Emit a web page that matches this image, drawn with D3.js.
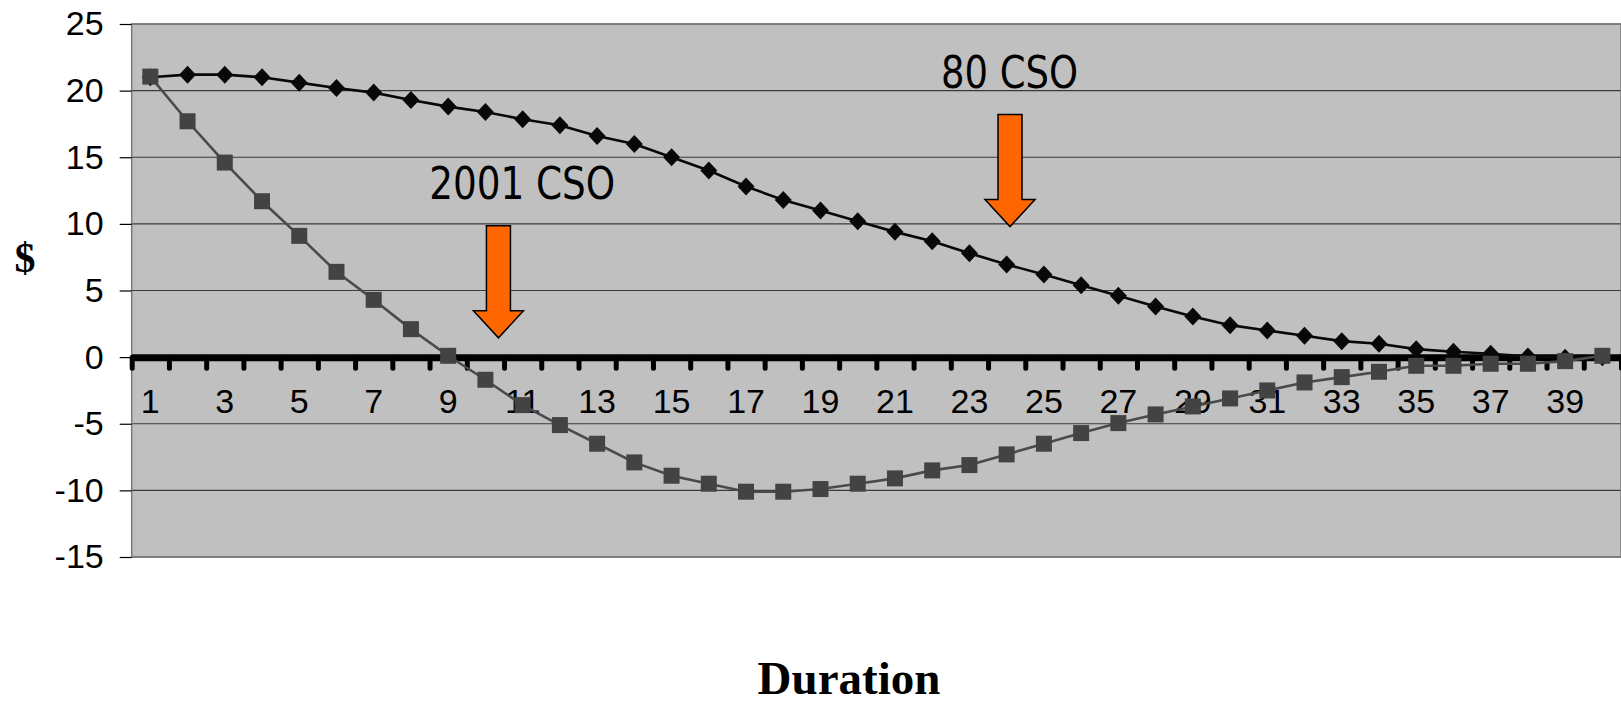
<!DOCTYPE html>
<html>
<head>
<meta charset="utf-8">
<script src="https://cdn.jsdelivr.net/npm/d3@7"></script>
<style>
  body { margin: 0; background: #fff; }
  svg { display: block; }
</style>
</head>
<body>
<div id="chart"></div>
<script>
// durations 1..40
var durations = d3.range(1, 41);

// 80 CSO series (diamonds)
var cso80 = [21.0, 21.2, 21.2, 21.0, 20.6, 20.2, 19.85, 19.3, 18.8, 18.4,
             17.85, 17.4, 16.6, 16.0, 15.0, 14.0, 12.8, 11.8, 11.0, 10.2,
             9.4, 8.7, 7.8, 6.95, 6.2, 5.4, 4.6, 3.8, 3.05, 2.4,
             2.0, 1.6, 1.2, 1.0, 0.6, 0.4, 0.25, 0.05, -0.05, 0.0];

// 2001 CSO series (squares)
var cso2001 = [21.05, 17.7, 14.6, 11.7, 9.1, 6.4, 4.3, 2.1, 0.1, -1.7,
               -3.6, -5.1, -6.5, -7.9, -8.9, -9.5, -10.1, -10.1, -9.9, -9.5,
               -9.1, -8.5, -8.1, -7.3, -6.5, -5.7, -4.95, -4.3, -3.7, -3.1,
               -2.5, -1.9, -1.5, -1.1, -0.65, -0.65, -0.5, -0.5, -0.3, 0.1];

var yTicks = [-15, -10, -5, 0, 5, 10, 15, 20, 25];
var xLabels = durations.filter(function(d) { return d % 2 === 1; });

// annotation labels and arrows, in chart units
var noteLabels = ["80 CSO", "2001 CSO"];
var noteTextPos = [[21.74, 20.2], [7.99, 11.87]];
var arrowPos = [[23.59, 18.2, 9.8], [9.85, 9.85, 1.45]];

var svgWidth = 1621;
var svgHeight = 703;
var margin = { top: 24, right: 0, bottom: 146, left: 131.7 };
var width = svgWidth - margin.left - margin.right;
var height = svgHeight - margin.top - margin.bottom;

var svg = d3.select("#chart").append("svg")
    .attr("width", svgWidth)
    .attr("height", svgHeight);

var chartGroup = svg.append("g")
    .attr("transform", `translate(${margin.left}, ${margin.top})`);

var xBand = d3.scaleBand().domain(durations).range([0, width]).padding(0);
var xLinear = d3.scaleLinear().domain([0, 40]).range([0, width]);
var yScale = d3.scaleLinear().domain([-15, 25]).range([height, 0]);

function px(d) { return xBand(d) + xBand.bandwidth() / 2; }

// plot background
chartGroup.append("rect")
    .attr("width", width)
    .attr("height", height)
    .attr("fill", "#c0c0c0");

// gridlines
chartGroup.selectAll(".grid")
    .data(yTicks)
    .enter()
    .append("line")
    .attr("x1", 0)
    .attr("x2", width)
    .attr("y1", function(d) { return yScale(d); })
    .attr("y2", function(d) { return yScale(d); })
    .attr("stroke", "#3a3a3a")
    .attr("stroke-width", 1.2);

// plot frame
chartGroup.append("rect")
    .attr("width", width)
    .attr("height", height)
    .attr("fill", "none")
    .attr("stroke", "#7a7a7a")
    .attr("stroke-width", 1.5);

// y axis (plain hyphen minus like the original)
var leftAxis = d3.axisLeft(yScale)
    .tickValues(yTicks)
    .tickSize(12)
    .tickPadding(16)
    .tickFormat(function(d) { return String(d); });
var yAxisG = chartGroup.append("g").call(leftAxis);
yAxisG.select(".domain").remove();
yAxisG.selectAll("line").attr("stroke", "#000").attr("stroke-width", 1.2);
yAxisG.selectAll("text")
    .style("font-family", "Liberation Sans, Arial, sans-serif")
    .style("font-size", "34px")
    .attr("fill", "#000");

// x axis at zero: thick line with round tick marks at category boundaries
var tickAxis = d3.axisBottom(xLinear)
    .tickValues(d3.range(0, 41))
    .tickSize(11)
    .tickSizeOuter(0)
    .tickFormat("");
var xAxisG = chartGroup.append("g")
    .attr("transform", `translate(0, ${yScale(0)})`)
    .call(tickAxis);
xAxisG.select(".domain").attr("stroke", "#000").attr("stroke-width", 7);
xAxisG.selectAll(".tick line")
    .attr("stroke", "#000")
    .attr("stroke-width", 5)
    .attr("stroke-linecap", "round");

// x labels (odd durations)
var labelAxis = d3.axisBottom(xBand).tickValues(xLabels).tickSize(0).tickPadding(32);
var labelG = chartGroup.append("g")
    .attr("transform", `translate(0, ${yScale(0)})`)
    .call(labelAxis);
labelG.select(".domain").remove();
labelG.selectAll("text")
    .style("font-family", "Liberation Sans, Arial, sans-serif")
    .style("font-size", "34px")
    .attr("fill", "#000");

// shared line generator
var seriesLine = d3.line()
    .x(function(d, i) { return px(durations[i]); })
    .y(function(d) { return yScale(d); });

// 80 CSO line with diamonds
chartGroup.append("path")
    .datum(cso80)
    .attr("d", seriesLine)
    .attr("fill", "none")
    .attr("stroke", "#080808")
    .attr("stroke-width", 2.6);

var dw = 8.5, dh = 9;
chartGroup.selectAll(".diamond")
    .data(cso80)
    .enter()
    .append("path")
    .attr("d", "M0," + (-dh) + "L" + dw + ",0L0," + dh + "L" + (-dw) + ",0Z")
    .attr("transform", function(d, i) {
        return `translate(${px(durations[i])}, ${yScale(d)})`;
    })
    .attr("fill", "#080808");

// 2001 CSO line with squares
chartGroup.append("path")
    .datum(cso2001)
    .attr("d", seriesLine)
    .attr("fill", "none")
    .attr("stroke", "#4a4a4a")
    .attr("stroke-width", 2.6);

chartGroup.selectAll(".square")
    .data(cso2001)
    .enter()
    .append("rect")
    .attr("x", function(d, i) { return px(durations[i]) - 8; })
    .attr("y", function(d) { return yScale(d) - 8; })
    .attr("width", 16)
    .attr("height", 16)
    .attr("fill", "#434343");

// annotation arrows
var shaftW = 24, headW = 50, headL = 27;
chartGroup.selectAll(".arrow")
    .data(arrowPos)
    .enter()
    .append("path")
    .attr("d", function(a) {
        var cx = xLinear(a[0]), top = yScale(a[1]), tip = yScale(a[2]);
        var hs = tip - headL;
        return "M" + (cx - shaftW / 2) + "," + top +
            "L" + (cx + shaftW / 2) + "," + top +
            "L" + (cx + shaftW / 2) + "," + hs +
            "L" + (cx + headW / 2) + "," + hs +
            "L" + cx + "," + tip +
            "L" + (cx - headW / 2) + "," + hs +
            "L" + (cx - shaftW / 2) + "," + hs + "Z";
    })
    .attr("fill", "#ff6600")
    .attr("stroke", "#000")
    .attr("stroke-width", 1.5)
    .attr("stroke-linejoin", "miter");

// annotation labels
chartGroup.selectAll(".note")
    .data(noteLabels)
    .enter()
    .append("text")
    .attr("x", function(d, i) { return xLinear(noteTextPos[i][0]); })
    .attr("y", function(d, i) { return yScale(noteTextPos[i][1]); })
    .style("font-family", "'DejaVu Sans Condensed', 'DejaVu Sans', sans-serif")
    .style("font-stretch", "condensed")
    .style("font-size", "44px")
    .attr("textLength", function(d, i) { return i === 0 ? 137 : 186; })
    .attr("lengthAdjust", "spacingAndGlyphs")
    .attr("fill", "#000")
    .text(function(d) { return d; });

// axis titles
svg.append("text")
    .attr("x", 25)
    .attr("y", 272)
    .attr("text-anchor", "middle")
    .style("font-family", "Liberation Serif, 'Times New Roman', serif")
    .style("font-weight", "bold")
    .style("font-size", "42px")
    .text("$");

svg.append("text")
    .attr("x", 849)
    .attr("y", 694)
    .attr("text-anchor", "middle")
    .style("font-family", "Liberation Serif, 'Times New Roman', serif")
    .style("font-weight", "bold")
    .style("font-size", "47px")
    .text("Duration");
</script>
</body>
</html>
